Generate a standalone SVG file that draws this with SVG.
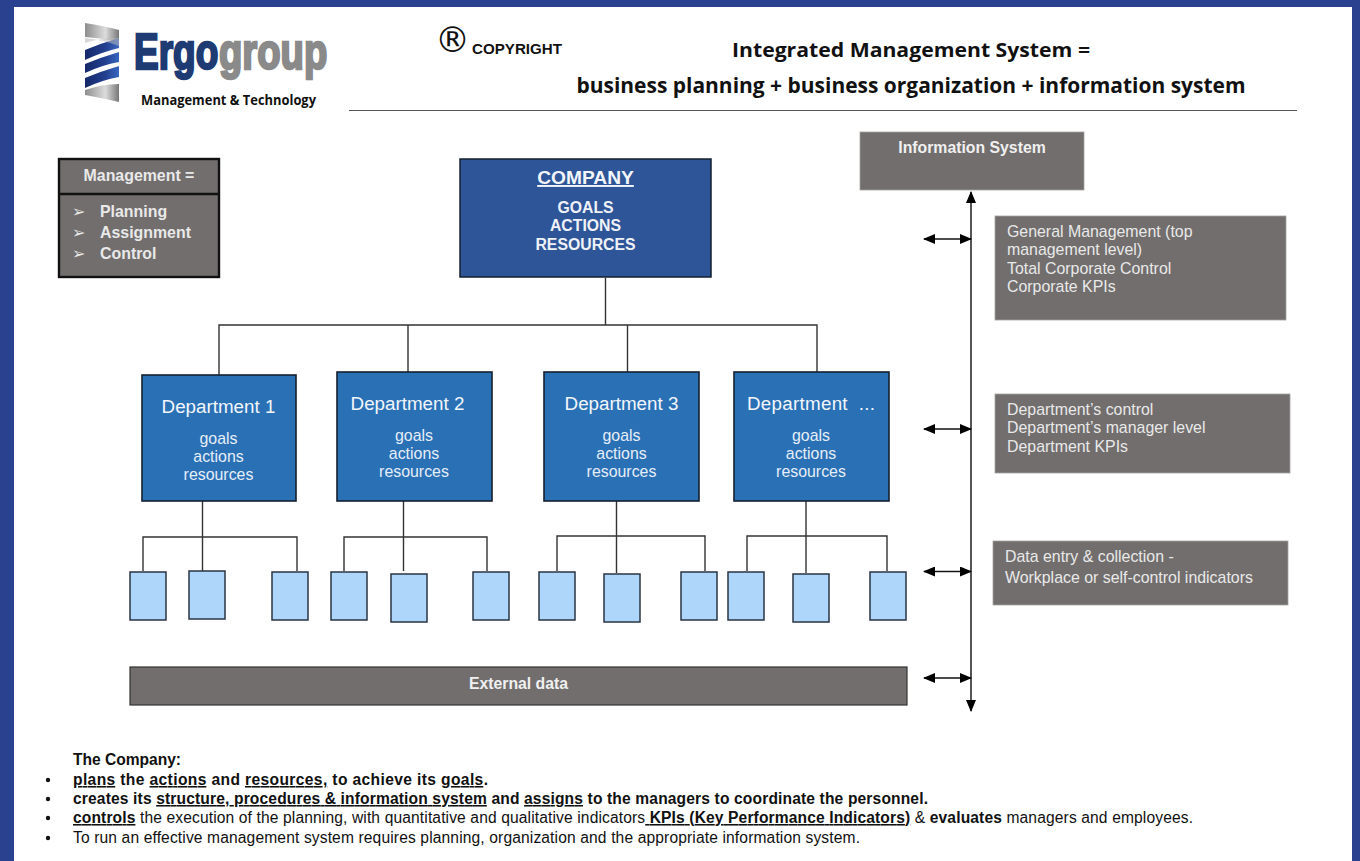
<svg xmlns="http://www.w3.org/2000/svg" width="1360" height="861" viewBox="0 0 1360 861">
<style>
text{font-family:"Liberation Sans",Arial,sans-serif}
.c{text-anchor:middle}
.cal{font-family:"Open Sans","Liberation Sans",sans-serif;font-weight:700;fill:#111}
.w{fill:#f0f0f0}
.b{font-weight:700}
.grey{fill:#716e6d;stroke:#a5a3a2;stroke-width:.8}
.dept{fill:#2a70b5;stroke:#15202e;stroke-width:1.6}
.leaf{fill:#aed6fb;stroke:#2a3442;stroke-width:1.5}
.ln{fill:none;stroke:#333;stroke-width:1.4}
.ax{fill:none;stroke:#111;stroke-width:1.3;marker-start:url(#a);marker-end:url(#a)}
.g16{font-size:15.9px;fill:#e9e9e9}
.d1{font-size:18.8px;fill:#f2f6fb}
.d2{font-size:15.9px;fill:#e6eef8}
.t{font-size:15.6px;fill:#111}
.u{text-decoration:underline}
</style>
<defs>
<marker id="a" viewBox="0 0 12 10" refX="11" refY="5" markerWidth="12" markerHeight="10" markerUnits="userSpaceOnUse" orient="auto-start-reverse"><path d="M0 0L12 5L0 10Z" fill="#000"/></marker>
<linearGradient id="sil" x1="0" x2="1" y1="0" y2="0"><stop offset="0" stop-color="#8d8d8d"/><stop offset=".6" stop-color="#dcdcdc"/><stop offset="1" stop-color="#777"/></linearGradient>
<linearGradient id="blu" x1="0" x2="1" y1="0" y2="0"><stop offset="0" stop-color="#16286a"/><stop offset=".6" stop-color="#23408f"/><stop offset="1" stop-color="#3767c0"/></linearGradient>
</defs>
<rect width="1360" height="861" fill="#fff"/>
<path d="M0 0H1360V861H1352V7H14V861H0Z" fill="#2a4190"/>
<g id="logo">
<path d="M85 23Q104 26 119 30V42Q102 38 85 37Z" fill="url(#sil)"/>
<path d="M85 50Q102 43 119 38V48Q102 52 85 60Z" fill="url(#blu)"/>
<path d="M85 64Q102 57 119 52V62Q102 65 85 73Z" fill="url(#blu)"/>
<path d="M85 78Q102 71 119 66V77Q102 80 85 88Z" fill="url(#blu)"/>
<path d="M85 38Q104 40 119 46V38Q100 38 85 43Z" fill="#b8b8b8" opacity=".55"/>
<path d="M85 90Q102 84 119 84V102Q102 98 85 95Z" fill="url(#sil)"/>
<text transform="translate(134 69) scale(.74 1)" x="0" y="0" font-size="50" font-weight="700" fill="#1f3b73" stroke="#1f3b73" stroke-width="2.500">Ergo</text>
<text transform="translate(219 69) scale(.765 1)" x="0" y="0" font-size="50" font-weight="700" fill="#8a8a8a" stroke="#8a8a8a" stroke-width="2.500">group</text>
<text x="141" y="105" class="cal" font-size="13.500" textLength="175" lengthAdjust="spacingAndGlyphs">Management &amp; Technology</text>
</g>
<g id="header">
<text x="435" y="52" font-size="35" fill="#111" style="font-family:'DejaVu Sans',sans-serif">®</text>
<text x="472" y="54" font-size="14" font-weight="700" fill="#111" textLength="90" lengthAdjust="spacingAndGlyphs">COPYRIGHT</text>
<text x="911" y="57" class="cal c" font-size="20" textLength="358" lengthAdjust="spacingAndGlyphs">Integrated Management System =</text>
<text x="911" y="93" class="cal c" font-size="21.5" textLength="669" lengthAdjust="spacingAndGlyphs">business planning + business organization + information system</text>
<line x1="349" y1="110.500" x2="1297" y2="110.500" stroke="#555" stroke-width="1.2"/>
</g>
<g id="connectors">
<path class="ln" d="M605.500 278V325M219 375V325H817V372M408 325V372M627.500 325V372"/>
<path class="ln" d="M202.500 501V537M143 571V537H297V571M202.500 537V571"/>
<path class="ln" d="M403.500 501V537M344 571V537H487V571M403.500 537V571"/>
<path class="ln" d="M616.500 501V536M557 571V536H705V571M616.500 536V573"/>
<path class="ln" d="M806 501V536M747 571V536H887V571M806 536V573"/>
<path d="M971 192V711" stroke="#555" stroke-width="2" fill="none" marker-start="url(#a)" marker-end="url(#a)"/>
<line class="ax" x1="924" y1="239" x2="971" y2="239"/>
<line class="ax" x1="924" y1="429" x2="971" y2="429"/>
<line class="ax" x1="924" y1="571.500" x2="971" y2="571.500"/>
<line class="ax" x1="924" y1="678" x2="971" y2="678"/>
</g>
<g id="management">
<rect x="59" y="159" width="160" height="118" fill="#716e6d" stroke="#111" stroke-width="2.400"/>
<line x1="59" y1="194" x2="219" y2="194" stroke="#111" stroke-width="2.400"/>
<text x="139" y="181" class="c b g16">Management =</text>
<text x="72" y="217" class="g16" style="font-size:16px">➢</text>
<text x="72" y="238" class="g16" style="font-size:16px">➢</text>
<text x="72" y="259" class="g16" style="font-size:16px">➢</text>
<text x="100" y="217" class="b g16">Planning</text>
<text x="100" y="238" class="b g16">Assignment</text>
<text x="100" y="259" class="b g16">Control</text>
</g>
<g id="company">
<rect x="460" y="159" width="251" height="118" fill="#2e5597" stroke="#15202e" stroke-width="1.500"/>
<text x="585.500" y="184" class="c b u" font-size="19.200" fill="#f2f6fb">COMPANY</text>
<text x="585.500" y="213" class="c b" font-size="15.800" fill="#eef2f8">GOALS</text>
<text x="585.500" y="231" class="c b" font-size="15.800" fill="#eef2f8">ACTIONS</text>
<text x="585.500" y="250" class="c b" font-size="15.800" fill="#eef2f8">RESOURCES</text>
</g>
<g id="dept1"><rect class="dept" x="142" y="375" width="154" height="126"/><text x="218.500" y="413" class="c d1">Department 1</text><text x="218.500" y="444" class="c d2">goals</text><text x="218.500" y="462" class="c d2">actions</text><text x="218.500" y="480" class="c d2">resources</text></g>
<g id="dept2"><rect class="dept" x="337" y="372" width="155" height="129"/><text x="407.500" y="410" class="c d1">Department 2</text><text x="414" y="441" class="c d2">goals</text><text x="414" y="459" class="c d2">actions</text><text x="414" y="477" class="c d2">resources</text></g>
<g id="dept3"><rect class="dept" x="544" y="372" width="155" height="129"/><text x="621.500" y="410" class="c d1">Department 3</text><text x="621.500" y="441" class="c d2">goals</text><text x="621.500" y="459" class="c d2">actions</text><text x="621.500" y="477" class="c d2">resources</text></g>
<g id="dept4"><rect class="dept" x="734" y="372" width="155" height="129"/><text x="747" y="410" class="d1" xml:space="preserve" textLength="128">Department  ...</text><text x="811" y="441" class="c d2">goals</text><text x="811" y="459" class="c d2">actions</text><text x="811" y="477" class="c d2">resources</text></g>
<g id="leaves">
<rect class="leaf" x="130" y="572" width="36" height="48"/>
<rect class="leaf" x="189" y="571" width="36" height="48"/>
<rect class="leaf" x="272" y="572" width="36" height="48"/>
<rect class="leaf" x="331" y="572" width="36" height="48"/>
<rect class="leaf" x="391" y="574" width="36" height="48"/>
<rect class="leaf" x="473" y="572" width="36" height="48"/>
<rect class="leaf" x="539" y="572" width="36" height="48"/>
<rect class="leaf" x="604" y="574" width="36" height="48"/>
<rect class="leaf" x="681" y="572" width="36" height="48"/>
<rect class="leaf" x="728" y="572" width="36" height="48"/>
<rect class="leaf" x="793" y="574" width="36" height="48"/>
<rect class="leaf" x="870" y="572" width="36" height="48"/>
</g>
<g id="external"><rect x="130" y="667" width="777" height="38" fill="#716e6d" stroke="#333" stroke-width="1.200"/><text x="518.500" y="689" class="c b w" font-size="15.800">External data</text></g>
<g id="infosys"><rect class="grey" x="860" y="132" width="224" height="58"/><text x="972" y="152.500" class="c b w" font-size="15.800">Information System</text></g>
<g id="general"><rect class="grey" x="995" y="216" width="291" height="104"/><text class="g16" x="1007" y="237">General Management (top</text><text class="g16" x="1007" y="255">management level)</text><text class="g16" x="1007" y="274">Total Corporate Control</text><text class="g16" x="1007" y="292">Corporate KPIs</text></g>
<g id="deptinfo"><rect class="grey" x="995" y="394" width="295" height="79"/><text class="g16" x="1007" y="415">Department’s control</text><text class="g16" x="1007" y="433">Department’s manager level</text><text class="g16" x="1007" y="452">Department KPIs</text></g>
<g id="dataentry"><rect class="grey" x="993" y="541" width="295" height="64"/><text class="g16" x="1005" y="562">Data entry &amp; collection -</text><text class="g16" x="1005" y="583">Workplace or self-control indicators</text></g>
<g id="notes">
<g fill="#111"><circle cx="48" cy="780" r="2.200"/><circle cx="48" cy="799" r="2.200"/><circle cx="48" cy="818" r="2.200"/><circle cx="48" cy="838" r="2.200"/></g>
<text x="73" y="765" class="t b" textLength="108">The Company:</text>
<text x="73" y="785" class="t b" textLength="415"><tspan class="u">plans</tspan> the <tspan class="u">actions</tspan> and <tspan class="u">resources,</tspan> to achieve its <tspan class="u">goals</tspan>.</text>
<text x="73" y="804" class="t b" textLength="855"><tspan>creates its </tspan><tspan class="u">structure, procedures &amp; information system</tspan> and <tspan class="u">assigns</tspan> to the managers to coordinate the personnel.</text>
<text x="73" y="823" class="t" textLength="1120"><tspan class="u b">controls</tspan> the execution of the planning, with quantitative and qualitative indicators<tspan class="u b"> KPIs (Key Performance Indicators)</tspan> &amp; <tspan class="b">evaluates</tspan> managers and employees.</text>
<text x="73" y="843" class="t" textLength="787">To run an effective management system requires planning, organization and the appropriate information system.</text>
</g>
</svg>
